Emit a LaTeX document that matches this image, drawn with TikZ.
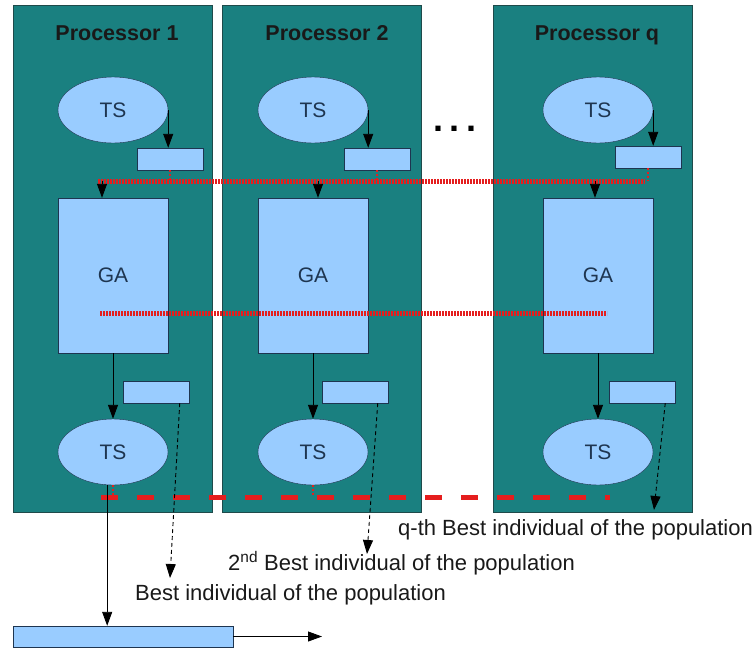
\documentclass[tikz,border=0pt]{standalone}
\usepackage{fontspec}
\setmainfont{Liberation Sans}
\usepackage{xcolor}
\definecolor{panelfill}{HTML}{1A8080}
\definecolor{paneledge}{HTML}{1F4A4A}
\definecolor{shapefill}{HTML}{99CCFF}
\definecolor{shapeedge}{HTML}{1E3550}
\definecolor{linkred}{HTML}{E51E1E}
\usepackage{tikz}
\usetikzlibrary{arrows.meta, calc, shapes.geometric}

\begin{document}
\begin{tikzpicture}[
  x=1pt, y=-1pt,
  every node/.style={align=center},
  panel/.style={draw=paneledge, fill=panelfill, minimum width=199pt,
    minimum height=507pt, inner sep=0pt},
  title/.style={font=\bfseries\fontsize{21.5}{25}\selectfont, text=black!90,
    anchor=base, inner sep=0pt},
  tsnode/.style={ellipse, draw=shapeedge, fill=shapefill, minimum width=110pt,
    minimum height=66pt, inner sep=0pt, font=\fontsize{21}{25}\selectfont,
    text=shapeedge},
  ganode/.style={draw=shapeedge, fill=shapefill, minimum width=110pt,
    minimum height=155pt, inner sep=0pt, font=\fontsize{21}{25}\selectfont,
    text=shapeedge},
  slot/.style={draw=shapeedge, fill=shapefill, minimum width=66pt,
    minimum height=22pt, inner sep=0pt},
  arr/.style={-{Triangle[length=14pt,width=10pt]}, black, line width=0.9pt},
  darr/.style={arr, dash pattern=on 4pt off 3pt},
  hint/.style={font=\fontsize{22}{26}\selectfont, anchor=west, inner sep=0pt,
    text=black!90},
  dotline/.style={linkred, line width=5pt, dash pattern=on 2pt off 1pt},
  dashline/.style={linkred, line width=5pt, dash pattern=on 17pt off 19pt},
  tick/.style={linkred, line width=2pt, dash pattern=on 2pt off 2pt}
]
  \useasboundingbox (0,0) rectangle (755,651);

  % processors
  \node[panel] (p1) at (112.5,258.5) {};
  \node[panel] (p2) at (321.5,258.5) {};
  \node[panel] (pq) at (592.5,258.5) {};
  \node[title] (t1) at (117,40) {Processor 1};
  \node[title] (t2) at (327,40) {Processor 2};
  \node[title] (tq) at (597,40) {Processor q};
  \node[font=\bfseries\fontsize{36}{40}\selectfont, anchor=base, inner sep=0pt]
    (dots) at (455,131.5) {.\hspace{7pt}.\hspace{7pt}.};

  % first TS and its slot
  \node[tsnode] (ts1) at (113,110) {TS};
  \node[tsnode] (ts2) at (313,110) {TS};
  \node[tsnode] (tsq) at (598,110) {TS};
  \node[slot] (sa1) at (170,159) {};
  \node[slot] (sa2) at (377,159) {};
  \node[slot] (saq) at (648,157) {};
  \draw[arr] (ts1.east) -- (ts1.east |- sa1.north);
  \draw[arr] (ts2.east) -- (ts2.east |- sa2.north);
  \draw[arr] (tsq.east) -- (tsq.east |- saq.north);

  % GA
  \node[ganode] (ga1) at (113,275.5) {GA};
  \node[ganode] (ga2) at (313,275.5) {GA};
  \node[ganode] (gaq) at (598,275.5) {GA};

  % exchange before GA
  \coordinate (xa) at (98,181);
  \coordinate (xb) at (645,181);
  \draw[dotline] (xa) -- (xb);
  \draw[tick] (sa1.south) -- (sa1.south |- xa);
  \draw[tick] (sa2.south) -- (sa2.south |- xa);
  \draw[tick] (saq.south) -- (saq.south |- xa);
  \coordinate (in1) at (102,181);
  \coordinate (in2) at (318,181);
  \coordinate (inq) at (595,181);
  \draw[arr] (in1) -- (in1 |- ga1.north);
  \draw[arr] (in2) -- (in2 |- ga2.north);
  \draw[arr] (inq) -- (inq |- gaq.north);

  % exchange inside GA
  \coordinate (ma) at (100,313);
  \coordinate (mb) at (607,313);
  \draw[dotline] (ma) -- (mb);

  % second TS and its slot
  \node[slot] (sb1) at (156.5,392) {};
  \node[slot] (sb2) at (355.5,392) {};
  \node[slot] (sbq) at (642,392) {};
  \node[tsnode] (tb1) at (113,452) {TS};
  \node[tsnode] (tb2) at (313,452) {TS};
  \node[tsnode] (tbq) at (598,452) {TS};
  \draw[arr] (ga1.south) -- (tb1.north);
  \draw[arr] (ga2.south) -- (tb2.north);
  \draw[arr] (gaq.south) -- (tbq.north);

  % exchange after TS
  \coordinate (ba) at (101,497);
  \coordinate (bb) at (610,497);
  \draw[dashline] (ba) -- (bb);
  \draw[tick] (tb1.south) -- (tb1.south |- ba);
  \draw[tick] (tb2.south) -- (tb2.south |- ba);

  % result
  \node[slot, minimum width=220pt, minimum height=21pt] (out) at (123,636.5) {};
  \draw[arr] (tb1.260) -- (tb1.260 |- out.north);
  \coordinate (outend) at (322,636.5);
  \draw[arr] (out.east) -- (outend);

  % best individuals
  \coordinate (e1) at (170,578);
  \coordinate (e2) at (367,554);
  \coordinate (eq) at (654,510);
  \draw[darr] ($(sb1.south)!0.7!(sb1.south east)$) -- (e1);
  \draw[darr] ($(sb2.south)!0.67!(sb2.south east)$) -- (e2);
  \draw[darr] ($(sbq.south)!0.7!(sbq.south east)$) -- (eq);
  \node[hint] (l1) at (135,595) {Best individual of the population};
  \node[hint] (l2) at (228,563) {2\textsuperscript{nd} Best individual of the population};
  \node[hint] (lq) at (398,530) {q-th Best individual of the population};
\end{tikzpicture}
\end{document}
